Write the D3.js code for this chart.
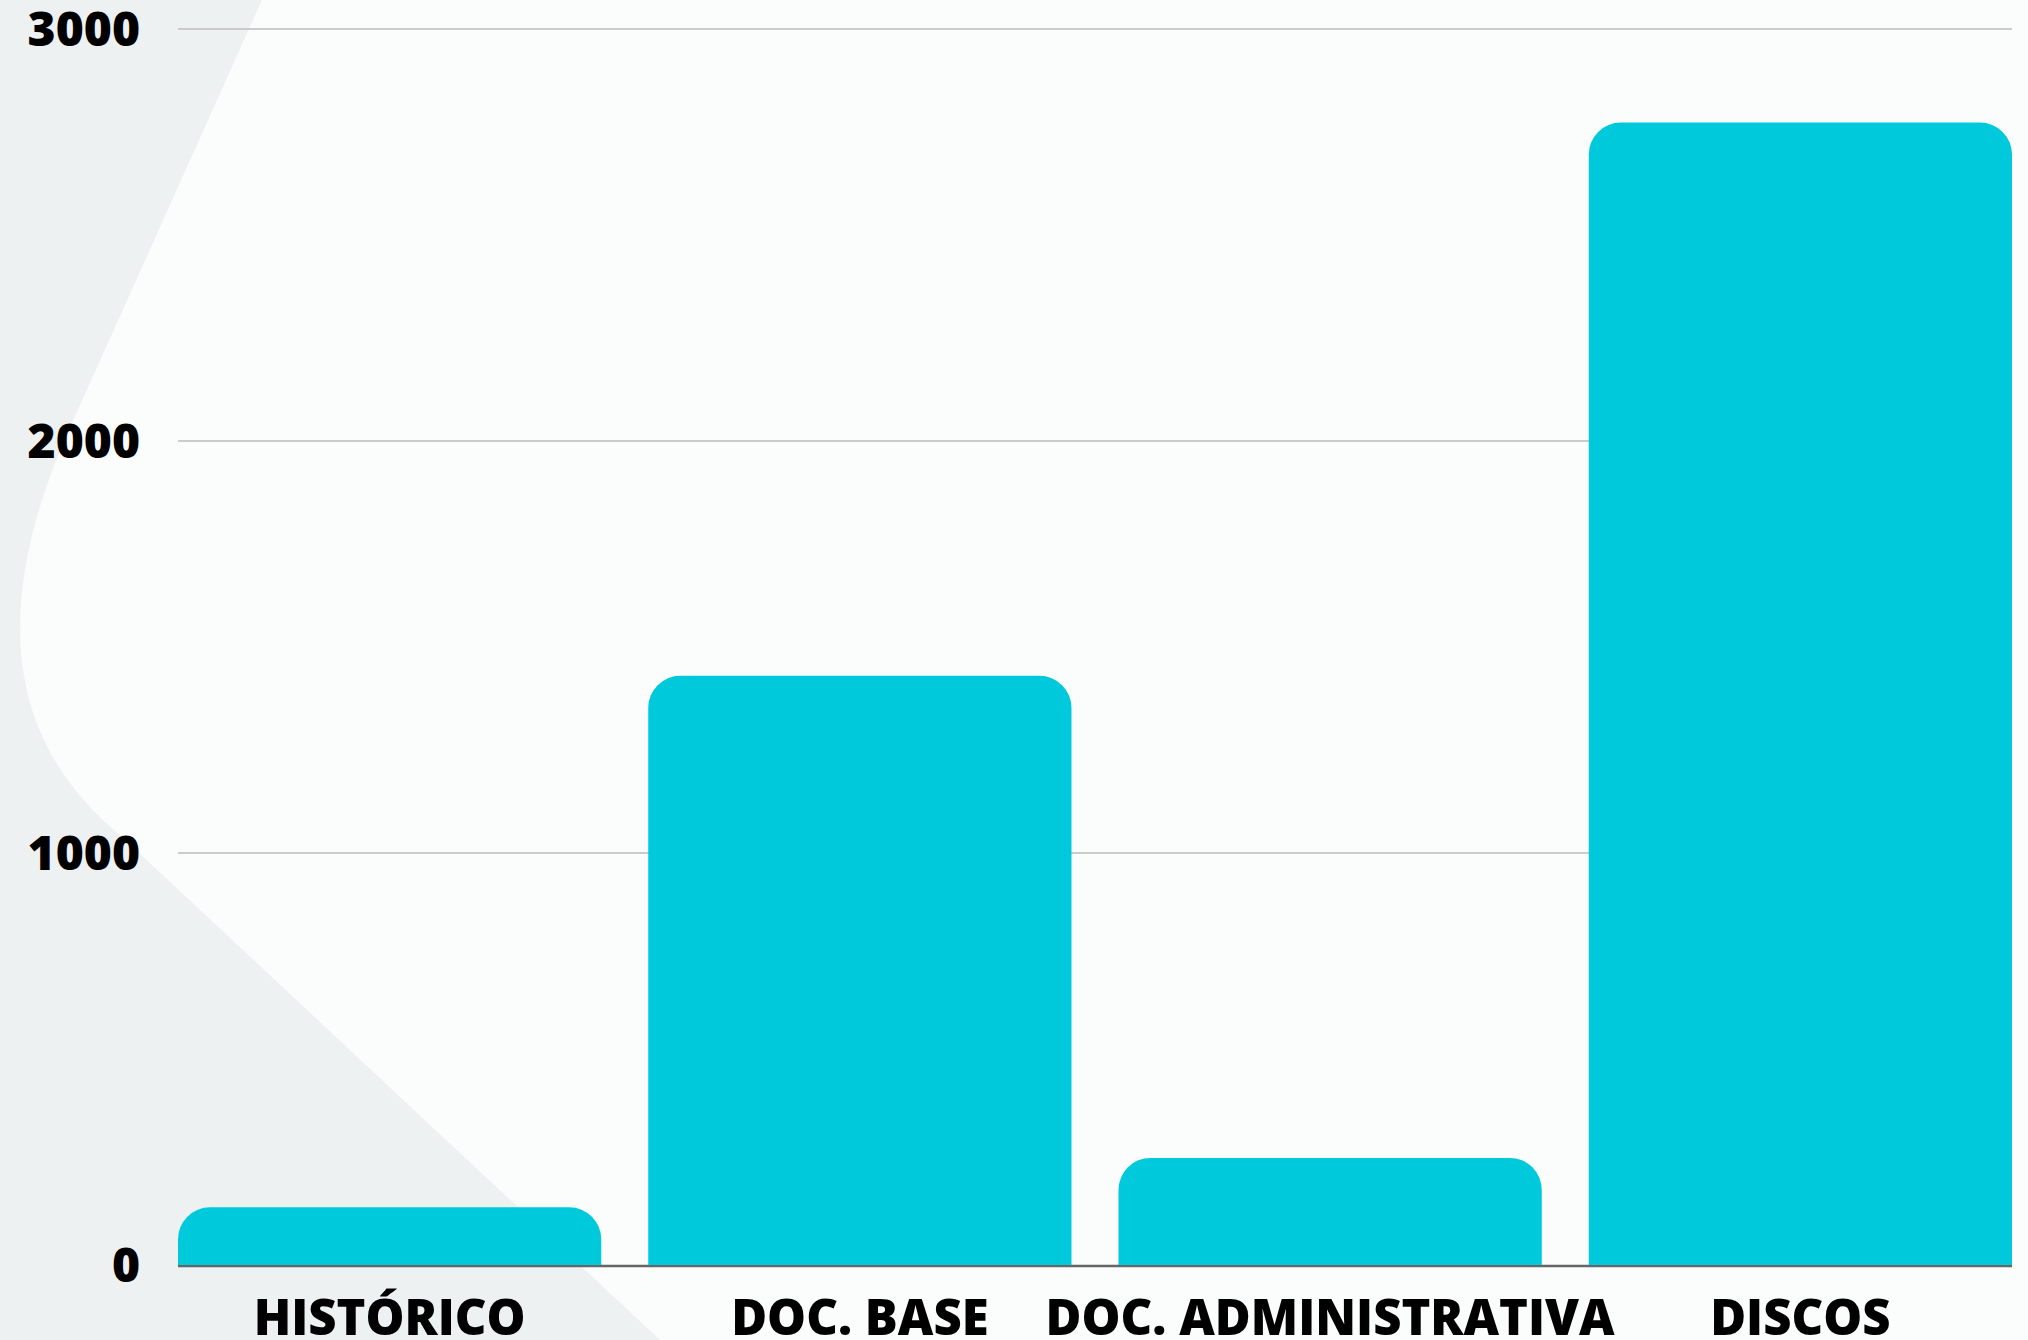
<!DOCTYPE html>
<meta charset="utf-8">
<title>Bar chart</title>
<style>
  body { margin: 0; background: #fbfcfc; }
  svg { display: block; }
  text { font-family: "Open Sans", sans-serif; font-weight: 800; fill: #000; }
</style>
<body>
<svg id="chart" width="2028" height="1340"></svg>
<script src="https://d3js.org/d3.v7.min.js"></script>
<script>

var categories = ["HISTÓRICO", "DOC. BASE", "DOC. ADMINISTRATIVA", "DISCOS"];
var values = [140, 1430, 260, 2773];
var yTicks = [0, 1000, 2000, 3000];

var width = 2028,
    height = 1340,
    marginLeft = 178,
    marginRight = 2012,
    plotTop = 29,
    plotBottom = 1265,
    radius = 32;

var svg = d3.select("#chart");

// light grey backdrop shape on the left
svg.append("path")
    .attr("d", "M262,0 L72,423 C10,560 -20,720 120,835 L660,1340 L0,1340 L0,0 Z")
    .attr("fill", "#eef1f2");

var x = d3.scaleBand()
    .domain(categories)
    .range([marginLeft, marginRight])
    .paddingInner(0.1)
    .paddingOuter(0);

var y = d3.scaleLinear()
    .domain([0, 3000])
    .range([plotBottom, plotTop]);

// gridlines
svg.append("g").selectAll("line")
  .data(yTicks.filter(function(d) { return d > 0; }))
  .enter().append("line")
    .attr("x1", marginLeft)
    .attr("x2", marginRight)
    .attr("y1", function(d) { return y(d); })
    .attr("y2", function(d) { return y(d); })
    .attr("stroke", "#bdbdbd")
    .attr("stroke-width", 1.5);

// baseline
svg.append("line")
    .attr("x1", marginLeft)
    .attr("x2", marginRight)
    .attr("y1", y(0) + 1)
    .attr("y2", y(0) + 1)
    .attr("stroke", "#666")
    .attr("stroke-width", 2.5);

// bars with rounded top corners
function barPath(x0, w, yTop, yBot, r) {
  r = Math.min(r, w / 2, yBot - yTop);
  return "M" + x0 + "," + yBot +
    "V" + (yTop + r) +
    "A" + r + "," + r + " 0 0 1 " + (x0 + r) + "," + yTop +
    "H" + (x0 + w - r) +
    "A" + r + "," + r + " 0 0 1 " + (x0 + w) + "," + (yTop + r) +
    "V" + yBot + "Z";
}

svg.append("g").selectAll("path")
  .data(values)
  .enter().append("path")
    .attr("fill", "#00c9db")
    .attr("d", function(d, i) {
      return barPath(x(categories[i]), x.bandwidth(), y(d), y(0), radius);
    });

// y tick labels
svg.append("g").selectAll("text")
  .data(yTicks)
  .enter().append("text")
    .attr("x", 140)
    .attr("y", function(d) { return y(d) + 17; })
    .attr("text-anchor", "end")
    .style("font-size", "48px")
    .text(function(d) { return d; });

// x labels
svg.append("g").selectAll("text")
  .data(categories)
  .enter().append("text")
    .attr("x", function(d) { return x(d) + x.bandwidth() / 2; })
    .attr("y", 1335)
    .attr("text-anchor", "middle")
    .style("font-size", "49px")
    .text(function(d) { return d; });

</script>
</body>
